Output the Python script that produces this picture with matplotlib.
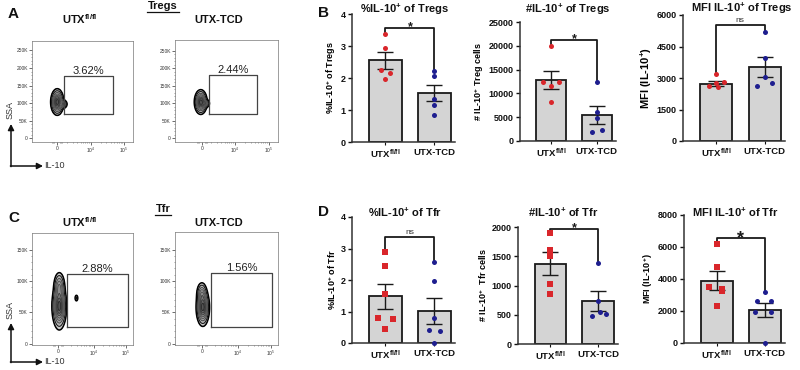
import numpy as np
import matplotlib
matplotlib.use("Agg")
import matplotlib.pyplot as plt

plt.rcParams['font.family'] = ['Liberation Sans', 'DejaVu Sans']
plt.rcParams['mathtext.fontset'] = 'custom'
plt.rcParams['mathtext.rm'] = 'Liberation Sans'
plt.rcParams['mathtext.bf'] = 'Liberation Sans:bold'
plt.rcParams['mathtext.default'] = 'regular'

# ---------------- data ----------------
groups = ["UTX$^{fl/fl}$", "UTX-TCD"]

# Tregs
treg_pct_utx = [3.38, 2.95, 2.25, 2.15, 1.98]
treg_pct_tcd = [2.22, 2.05, 1.35, 1.15, 0.85]
treg_pct_mean = [2.55, 1.53]
treg_pct_sem = [0.27, 0.25]

treg_num_utx = [19900, 12400, 12300, 11500, 8200]
treg_num_tcd = [12500, 6000, 4900, 2400, 1900]
treg_num_mean = [12800, 5500]
treg_num_sem = [1850, 1900]

treg_mfi_utx = [3200, 2800, 2750, 2600, 2550]
treg_mfi_tcd = [5200, 3950, 3050, 2750, 2600]
treg_mfi_mean = [2730, 3520]
treg_mfi_sem = [115, 480]

# Tfr
tfr_pct_utx = [2.9, 2.45, 1.55, 0.8, 0.75, 0.43]
tfr_pct_tcd = [2.57, 1.97, 0.78, 0.42, 0.38, 0.0]
tfr_pct_mean = [1.48, 1.02]
tfr_pct_sem = [0.40, 0.41]

tfr_num_utx = [1890, 1610, 1510, 1020, 850]
tfr_num_tcd = [1380, 740, 550, 510, 480]
tfr_num_mean = [1370, 732]
tfr_num_sem = [195, 168]

tfr_mfi_utx = [6200, 4750, 3500, 3400, 3250, 2300]
tfr_mfi_tcd = [3200, 2650, 2650, 1950, 1950, 0]
tfr_mfi_mean = [3880, 2070]
tfr_mfi_sem = [590, 455]

# significance brackets: (top, left leg bottom, right leg bottom), label
sig_treg_pct = ((3.56, 3.44, 2.28), "*")
sig_treg_num = ((21200, 20300, 12600), "*")
sig_treg_mfi = ((5520, 3280, 5300), "ns")
sig_tfr_pct = ((3.35, 2.97, 2.62), "ns")
sig_tfr_num = ((1972, 1900, 1410), "*")
sig_tfr_mfi = ((6545, 6320, 3300), "*")

# flow gate percentages
gate_pct = ["3.62%", "2.44%", "2.88%", "1.56%"]

# ---------------- styling / layout ----------------
W, H = 800, 370
RED = '#d9262b'
BLUE = '#1e1e8f'
DARK = '#1a1a1a'

fig = plt.figure(figsize=(8, 3.7), dpi=100)


def box(x0, x1, y0, y1):
    return [x0 / W, 1 - y1 / H, (x1 - x0) / W, (y1 - y0) / H]


def bar_panel(rect, utx, tcd, means, sems, jit_u, jit_t, ylim, yticks,
              sig, marker, ylabel, ylabel_size=6.5, sig_size=9):
    ax = fig.add_axes(box(*rect))
    x = np.arange(2)
    ax.bar(x, means, width=0.66, color='#d4d4d4', edgecolor=DARK,
           linewidth=1.3, zorder=1)
    ax.errorbar(x, means, yerr=sems, fmt='none', ecolor=DARK,
                elinewidth=1.0, capsize=6, capthick=1.0, zorder=3)
    ax.scatter(0 + np.array(jit_u), utx, color=RED, marker=marker, s=13,
               linewidths=0, zorder=4, clip_on=False)
    ax.scatter(1 + np.array(jit_t), tcd, color=BLUE, marker='o', s=13,
               linewidths=0, zorder=4, clip_on=False)
    (top, lb, rb), txt = sig
    ax.plot([0, 0, 1, 1], [lb, top, top, rb], color=DARK, lw=1.3,
            zorder=2, clip_on=False)
    if txt == "ns":
        ax.annotate(txt, (0.5, top), xytext=(0, 1), textcoords='offset points',
                    ha='center', va='bottom', fontsize=6, color='#333333')
    else:
        off = -1.5 if sig_size < 11 else -3.5
        ax.annotate(txt, (0.5, top), xytext=(0, off),
                    textcoords='offset points', ha='center', va='baseline',
                    fontsize=sig_size, fontweight='bold', color=DARK)
    ax.set_xlim(-0.68, 1.42)
    ax.set_ylim(*ylim)
    ax.set_yticks(yticks)
    ax.set_xticks(x)
    ax.set_xticklabels(groups)
    for s in ['top', 'right']:
        ax.spines[s].set_visible(False)
    for s in ['left', 'bottom']:
        ax.spines[s].set_linewidth(1.1)
        ax.spines[s].set_color('#333333')
    ax.tick_params(axis='y', length=3, width=1.0, labelsize=6.5, pad=1.5,
                   colors='#111111')
    ax.tick_params(axis='x', length=2, width=0.8, labelsize=6.8, pad=2,
                   colors='#111111')
    for lab in ax.get_yticklabels() + ax.get_xticklabels():
        lab.set_fontweight('bold')
    ax.set_ylabel(ylabel, fontsize=ylabel_size, fontweight='bold', labelpad=2)
    ax.patch.set_alpha(0)
    return ax


# ---- B row ----
bar_panel((352, 455, 14, 142), treg_pct_utx, treg_pct_tcd, treg_pct_mean,
          treg_pct_sem, [0, 0, -0.09, 0.09, 0], [0, 0, 0, 0, 0],
          (0, 4), [0, 1, 2, 3, 4], sig_treg_pct, 'o',
          "%IL-10$^{+}$ of Tregs")
bar_panel((520, 616, 22, 141), treg_num_utx, treg_num_tcd, treg_num_mean,
          treg_num_sem, [0, -0.18, 0.18, 0, 0], [0, 0, 0, 0.12, -0.1],
          (0, 25000), [0, 5000, 10000, 15000, 20000, 25000], sig_treg_num,
          'o', "# IL-10$^{+}$ Treg cells")
bar_panel((683, 785, 15, 141), treg_mfi_utx, treg_mfi_tcd, treg_mfi_mean,
          treg_mfi_sem, [0, 0.17, 0, -0.15, 0.05], [0, 0, 0, 0.15, -0.15],
          (0, 6000), [0, 1500, 3000, 4500, 6000], sig_treg_mfi, 'o',
          "MFI (IL-10$^{+}$)", ylabel_size=8)

# ---- D row ----
bar_panel((352, 455, 217, 343), tfr_pct_utx, tfr_pct_tcd, tfr_pct_mean,
          tfr_pct_sem, [0, 0, 0, -0.15, 0.15, 0], [0, 0, 0, -0.12, 0.12, 0],
          (0, 4), [0, 1, 2, 3, 4], sig_tfr_pct, 's',
          "%IL-10$^{+}$ of Tfr")
bar_panel((518, 618, 227, 344), tfr_num_utx, tfr_num_tcd, tfr_num_mean,
          tfr_num_sem, [0, 0, 0, 0, 0], [0, 0, 0.05, 0.17, -0.13],
          (0, 2000), [0, 500, 1000, 1500, 2000], sig_tfr_num, 's',
          "# IL-10$^{+}$  Tfr cells")
bar_panel((684, 785, 215, 343), tfr_mfi_utx, tfr_mfi_tcd, tfr_mfi_mean,
          tfr_mfi_sem, [0, 0, -0.15, 0.12, 0.12, 0],
          [0, -0.17, 0.12, -0.2, 0.12, 0],
          (0, 8000), [0, 2000, 4000, 6000, 8000], sig_tfr_mfi, 's',
          "MFI (IL-10$^{+}$)", sig_size=13)


# ---------------- flow cytometry contour plots ----------------
# blob components: (IL-10 display coord, SSA in K, sd x, sd y, weight)
blobs_treg_utx = [(25, 103, 2.6, 15, 1.0), (31, 97, 1.6, 5, 0.6)]
blobs_treg_tcd = [(25, 103, 2.5, 14, 1.0), (29.5, 99, 1.8, 5, 0.45)]
blobs_tfr_utx = [(27, 60, 2.9, 15, 1.0), (27, 92, 2.4, 10, 0.4),
                 (44, 73, 0.9, 3.0, 0.12)]
blobs_tfr_tcd = [(27, 58, 2.6, 12, 1.0), (26, 80, 2.2, 8, 0.35)]

gates = [((31.7, 80.2), (68.6, 177)), ((33, 79.6), (69, 180)),
         ((34.7, 95), (27, 112)), ((35, 94), (27, 113))]

x_tick_lab = ["0", "10$^4$", "10$^5$"]


def flow_panel(rect, blobs, gate, pct, ylim, yticks, ylabels, xt):
    ax = fig.add_axes(box(*rect))
    u = np.linspace(0, 100, 500)
    v = np.linspace(ylim[0], ylim[1], 500)
    U, V = np.meshgrid(u, v)
    Z = np.zeros_like(U)
    for cx, cy, sx, sy, w in blobs:
        Z += w * np.exp(-0.5 * ((U - cx) / sx) ** 2 - 0.5 * ((V - cy) / sy) ** 2)
    zmax = Z.max()
    lv = zmax * np.array([0.04, 0.1, 0.2, 0.32, 0.45, 0.6, 0.75, 0.9])
    fill_cols = ['#c8c8c8', '#b4b4b4', '#a0a0a0', '#9a9a9a', '#8c8c8c',
                 '#7a7a7a', '#666666', '#555555']
    ax.contourf(U, V, Z, levels=list(lv) + [zmax * 1.01], colors=fill_cols)
    cols = ['#000000', '#111111', '#333333', '#444444', '#444444',
            '#333333', '#333333', '#222222']
    widths = [1.1, 0.7, 0.5, 0.5, 0.5, 0.5, 0.5, 0.5]
    ax.contour(U, V, Z, levels=lv, colors=cols, linewidths=widths)
    (gx0, gx1), (gy0, gy1) = gate
    ax.plot([gx0, gx1, gx1, gx0, gx0], [gy0, gy0, gy1, gy1, gy0],
            color='#444444', lw=0.9)
    ax.text((gx0 + gx1) / 2, gy1, pct, ha='center', va='bottom',
            fontsize=8, color='#222222')
    ax.set_xlim(0, 100)
    ax.set_ylim(*ylim)
    ax.set_yticks(yticks, labels=ylabels)
    ax.set_xticks(xt, labels=x_tick_lab)
    minors = []
    for k in range(2, 10):
        minors.append(xt[1] + (xt[2] - xt[1]) * np.log10(k))
        minors.append(xt[1] - (xt[2] - xt[1]) * (1 - np.log10(k)))
    minors += [xt[0] - 5, xt[0] - 4, xt[0] - 3, xt[0] + 3, xt[0] + 4, xt[0] + 5]
    ax.set_xticks(minors, minor=True)
    ax.set_yticks(np.arange(yticks[0], yticks[-1] + 1, 10), minor=True)
    ax.tick_params(which='major', length=2, width=0.5, labelsize=3.5,
                   pad=1, colors='#333333')
    ax.tick_params(which='minor', length=1, width=0.4, colors='#555555')
    for s in ax.spines.values():
        s.set_linewidth(0.5)
        s.set_color('#777777')
    return ax


treg_yticks = [0, 50, 100, 150, 200, 250]
treg_ylab = ["0", "50K", "100K", "150K", "200K", "250K"]
tfr_yticks = [0, 50, 100, 150]
tfr_ylab = ["0", "50K", "100K", "150K"]

flow_panel((32, 133, 41, 142), blobs_treg_utx, gates[0], gate_pct[0],
           (-11, 277), treg_yticks, treg_ylab, [25, 58, 91])
flow_panel((175, 278, 40, 142), blobs_treg_tcd, gates[1], gate_pct[1],
           (-11, 280), treg_yticks, treg_ylab, [26, 58, 91])
flow_panel((32, 133, 233, 345), blobs_tfr_utx, gates[2], gate_pct[2],
           (-2, 177), tfr_yticks, tfr_ylab, [26, 61, 93])
flow_panel((175, 278, 232, 345), blobs_tfr_tcd, gates[3], gate_pct[3],
           (-2, 178), tfr_yticks, tfr_ylab, [26, 61, 93])

# ---------------- overlay annotations (pixel coordinates) ----------------
ov = fig.add_axes([0, 0, 1, 1])
ov.set_xlim(0, W)
ov.set_ylim(H, 0)
ov.axis('off')
ov.patch.set_alpha(0)

for lbl, (px, py) in zip("ABCD", [(8, 14), (318, 13), (8, 218), (318, 212)]):
    ov.text(px, py, lbl, fontsize=11, fontweight='bold', ha='left',
            va='center', color='#111111')

titles = [("%IL-10$^{+}$ of Tregs", 405, 9), ("#IL-10$^{+}$ of Tregs", 568, 9),
          ("MFI IL-10$^{+}$ of Tregs", 742, 8), ("%IL-10$^{+}$ of Tfr", 405, 212),
          ("#IL-10$^{+}$ of Tfr", 563, 212), ("MFI IL-10$^{+}$ of Tfr", 735, 212)]
for t, px, py in titles:
    ov.text(px, py, t, fontsize=8, fontweight='bold', ha='center',
            va='center', color='#111111')

for (t, px, py) in [("UTX$^{fl/fl}$", 80, 19), ("UTX-TCD", 219, 20),
                    ("UTX$^{fl/fl}$", 80, 222), ("UTX-TCD", 219, 223)]:
    ov.text(px, py, t, fontsize=8, fontweight='bold', ha='center',
            va='center', color='#111111')

for (t, px, py) in [("Tregs", 163, 6), ("Tfr", 163, 209)]:
    ov.text(px, py, t, fontsize=8, fontweight='bold', ha='center',
            va='center', color='#111111')
    half = 15 if t == "Tregs" else 7
    ov.plot([px - half - 1, px + half + 1], [py + 5.5, py + 5.5],
            color='#111111', lw=0.9)

for (y0, ytip, ssa_y) in [(166, 124, 110), (362, 323, 310)]:
    ov.annotate("", xy=(11, ytip), xytext=(11, y0 + 0.6),
                arrowprops=dict(arrowstyle='-|>,head_length=0.35,head_width=0.18',
                                color='#111111', lw=1.1, shrinkA=0, shrinkB=0))
    ov.annotate("", xy=(43, y0), xytext=(10.4, y0),
                arrowprops=dict(arrowstyle='-|>,head_length=0.35,head_width=0.18',
                                color='#111111', lw=1.1, shrinkA=0, shrinkB=0))
    ov.text(44, y0, "IL-10", fontsize=6.5, ha='left', va='center',
            color='#333333')
    ov.text(10, ssa_y, "SSA", fontsize=6.5, ha='center', va='center',
            rotation=90, color='#333333')

fig.savefig("out.png", dpi=100)
